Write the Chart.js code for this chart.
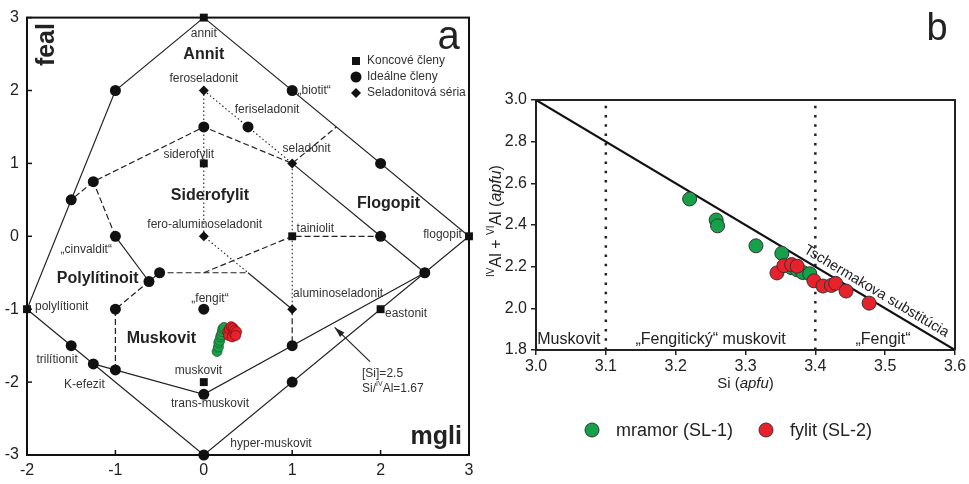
<!DOCTYPE html>
<html>
<head>
<meta charset="utf-8">
<script src="https://cdn.jsdelivr.net/npm/chart.js@4"></script>
<style>
  body { margin: 0; background: #fff; }
  #wrapA { position: absolute; left: 0; top: 0; width: 485px; height: 484px; }
  #wrapB { position: absolute; left: 485px; top: 0; width: 484px; height: 484px; }
</style>
</head>
<body>
<div id="wrapA"><canvas id="chartA"></canvas></div>
<div id="wrapB"><canvas id="chartB"></canvas></div>
<script>
// ---- panel a: mgli vs feal ----
const xTicksA = [-2, -1, 0, 1, 2, 3];
const yTicksA = [-3, -2, -1, 0, 1, 2, 3];
const endMembers = [[0, 3], [0, 1], [1, 0], [3, 0], [-2, -1], [2, -1], [0, -2]];
const idealMembers = [[1, 2], [-1, 2], [2, 1], [0, 1.5], [0.5, 1.5], [-1.25, 0.75], [-1.5, 0.5], [-1, 0], [2, 0],
  [-0.62, -0.62], [-0.5, -0.5], [-1, -1], [0, -1], [-1.5, -1.5], [-1.25, -1.75], [-1, -1.833], [0, -2.167],
  [1, -1.5], [1, -2], [2.5, -0.5], [0, -3]];
const celadonites = [[0, 2], [1, 1], [0, 0], [1, -1]];
const solidLines = [
  [[0, 3], [3, 0], [0, -3], [-2, -1], [-1, 2], [0, 3]],
  [[-1.25, -1.75], [0, -2.167], [2.5, -0.5]],
  [[2, 0], [2.5, -0.5]],
  [[1, 1], [2, 0]],
  [[-1, 0], [-0.62, -0.62]],
  [[0.5, -0.5], [1, -1]]
];
const dashedLines = [
  [[-1, -1.833], [-1, -1], [-0.62, -0.62], [-0.5, -0.5], [0.5, -0.5]],
  [[0, -0.5], [1, 0], [2, 0]],
  [[1, -1], [1, -1.5]],
  [[-1, 0], [-1.25, 0.75], [0, 1.5], [1, 1], [1.5, 1.5]],
  [[-1.25, 0.75], [-1.5, 0.5]]
];
const dottedLines = [
  [[0, 2], [0, 0], [0.5, -0.5]],
  [[0, 2], [0.5, 1.5], [1, 1], [1, -1]]
];
const marbleMgli = [0.15, 0.165, 0.17, 0.18, 0.19, 0.2, 0.21, 0.215, 0.23];
const marbleFeal = [-1.58, -1.52, -1.46, -1.43, -1.38, -1.35, -1.31, -1.27, -1.25];
const phylliteMgli = [0.27, 0.28, 0.29, 0.31, 0.32, 0.33, 0.34, 0.35, 0.37, 0.36];
const phylliteFeal = [-1.31, -1.36, -1.27, -1.24, -1.38, -1.26, -1.33, -1.29, -1.31, -1.36];

// ---- panel b: Si vs IVAl + VIAl ----
const marbleSi = [3.220, 3.258, 3.260, 3.315, 3.352, 3.366, 3.374, 3.382, 3.392];
const marbleAl = [2.525, 2.424, 2.396, 2.300, 2.264, 2.195, 2.185, 2.172, 2.166];
const phylliteSi = [3.345, 3.355, 3.366, 3.374, 3.398, 3.411, 3.423, 3.429, 3.444, 3.477];
const phylliteAl = [2.170, 2.205, 2.210, 2.202, 2.132, 2.107, 2.110, 2.120, 2.083, 2.025];
const tschermakSi = [3.0, 3.6];
const tschermakAl = [3.0, 1.8];
const dividers = [3.1, 3.4];
const fieldNames = ['Muskovit', '„Fengitický“ muskovit', '„Fengit“'];
const fieldCentres = [3.047, 3.25, 3.497];

const FONT = '"Liberation Sans", Arial, sans-serif';
const GREEN = '#17a04a';
const RED = '#e8222a';
Chart.defaults.font.family = FONT;
Chart.defaults.color = '#222';

const pairs = list => list.map(p => ({x: p[0], y: p[1]}));
const zip = (xs, ys) => xs.map((v, i) => ({x: v, y: ys[i]}));

function lineSet(pts, dash, width) {
  return {data: pairs(pts), showLine: true, pointRadius: 0, borderColor: '#222', borderWidth: width || 1.2,
    borderDash: dash || [], order: 3, clip: false};
}

// rich text: parts are {t, sup, it}
function drawRich(ctx, parts, x, y, size, align) {
  const fontOf = p => (p.it ? 'italic ' : '') + (p.sup ? Math.round(size * 0.62) : size) + 'px ' + FONT;
  let w = 0;
  parts.forEach(p => { ctx.font = fontOf(p); w += ctx.measureText(p.t).width; });
  let cx = align === 'center' ? x - w / 2 : x;
  ctx.textAlign = 'left';
  ctx.textBaseline = 'middle';
  parts.forEach(p => {
    ctx.font = fontOf(p);
    ctx.fillText(p.t, cx, p.sup ? y - size * 0.38 : y);
    cx += ctx.measureText(p.t).width;
  });
}

const labelsA = [
  {t: 'annit', x: 0, y: 2.78},
  {t: 'Annit', x: 0, y: 2.49, bold: true},
  {t: 'feroseladonit', x: 0, y: 2.16},
  {t: '„biotit“', x: 1.06, y: 2.0, align: 'left'},
  {t: 'feriseladonit', x: 0.35, y: 1.74, align: 'left'},
  {t: 'seladonit', x: 0.89, y: 1.2, align: 'left'},
  {t: 'siderofylit', x: -0.17, y: 1.12},
  {t: 'Siderofylit', x: 0.07, y: 0.56, bold: true},
  {t: 'Flogopit', x: 2.09, y: 0.45, bold: true},
  {t: 'fero-aluminoseladonit', x: 0.01, y: 0.16},
  {t: 'tainiolit', x: 1.05, y: 0.1, align: 'left'},
  {t: 'flogopit', x: 2.92, y: 0.02, align: 'right'},
  {t: '„cinvaldit“', x: -1.33, y: -0.18},
  {t: 'Polylítinoit', x: -1.2, y: -0.58, bold: true},
  {t: 'polylítionit', x: -1.91, y: -0.96, align: 'left'},
  {t: '„fengit“', x: 0.07, y: -0.85},
  {t: 'aluminoseladonit', x: 1.01, y: -0.79, align: 'left'},
  {t: 'eastonit', x: 2.05, y: -1.06, align: 'left'},
  {t: 'Muskovit', x: -0.48, y: -1.41, bold: true},
  {t: 'trilítionit', x: -1.66, y: -1.69},
  {t: 'K-efezit', x: -1.35, y: -2.04},
  {t: 'muskovit', x: -0.06, y: -1.85},
  {t: 'trans-muskovit', x: 0.07, y: -2.3},
  {t: 'hyper-muskovit', x: 0.76, y: -2.84},
  {t: '[Si]=2.5', x: 1.79, y: -1.89, align: 'left'}
];

const panelA = {
  id: 'panelA',
  afterDraw(chart) {
    const {ctx, chartArea: a, scales: {x, y}} = chart;
    ctx.save();
    ctx.strokeStyle = '#111';
    ctx.lineWidth = 2;
    ctx.strokeRect(a.left, a.top, a.right - a.left, a.bottom - a.top);
    // inward ticks
    ctx.lineWidth = 1.5;
    xTicksA.forEach(v => {
      const px = x.getPixelForValue(v);
      ctx.beginPath(); ctx.moveTo(px, a.bottom); ctx.lineTo(px, a.bottom - 5); ctx.stroke();
    });
    yTicksA.forEach(v => {
      const py = y.getPixelForValue(v);
      ctx.beginPath(); ctx.moveTo(a.left, py); ctx.lineTo(a.left + 5, py); ctx.stroke();
    });

    ctx.fillStyle = '#333';
    ctx.textBaseline = 'middle';
    labelsA.forEach(l => {
      ctx.font = (l.bold ? 'bold 16px ' : '12px ') + FONT;
      ctx.fillStyle = l.bold ? '#222' : '#333';
      ctx.textAlign = l.align || 'center';
      ctx.fillText(l.t, x.getPixelForValue(l.x), y.getPixelForValue(l.y));
    });
    ctx.fillStyle = '#333';
    drawRich(ctx, [{t: 'Si/'}, {t: 'IV', sup: true}, {t: 'Al=1.67'}],
      x.getPixelForValue(1.79), y.getPixelForValue(-2.09), 12, 'left');

    // arrow to the [Si]=2.5 line
    const x0 = x.getPixelForValue(1.88), y0 = y.getPixelForValue(-1.72);
    const x1 = x.getPixelForValue(1.48), y1 = y.getPixelForValue(-1.25);
    const ang = Math.atan2(y1 - y0, x1 - x0);
    ctx.strokeStyle = '#222';
    ctx.lineWidth = 1.2;
    ctx.beginPath(); ctx.moveTo(x0, y0); ctx.lineTo(x1, y1); ctx.stroke();
    ctx.fillStyle = '#222';
    ctx.beginPath();
    ctx.moveTo(x1, y1);
    ctx.lineTo(x1 - 11 * Math.cos(ang - 0.28), y1 - 11 * Math.sin(ang - 0.28));
    ctx.lineTo(x1 - 11 * Math.cos(ang + 0.28), y1 - 11 * Math.sin(ang + 0.28));
    ctx.closePath(); ctx.fill();

    // axis names and panel letter
    ctx.fillStyle = '#222';
    ctx.font = 'bold 25px ' + FONT;
    ctx.textAlign = 'right';
    ctx.fillText('mgli', x.getPixelForValue(2.92), y.getPixelForValue(-2.76));
    ctx.save();
    ctx.translate(x.getPixelForValue(-1.77), y.getPixelForValue(2.63));
    ctx.rotate(-Math.PI / 2);
    ctx.textAlign = 'center';
    ctx.fillText('feal', 0, 0);
    ctx.restore();
    ctx.font = '40px ' + FONT;
    ctx.textAlign = 'center';
    ctx.fillText('a', x.getPixelForValue(2.77), y.getPixelForValue(2.72));

    // legend of marker types
    const lx = 356, names = ['Koncové členy', 'Ideálne členy', 'Seladonitová séria'];
    const ly = [61, 77, 93];
    ctx.fillStyle = '#111';
    ctx.fillRect(lx - 4, ly[0] - 4, 8, 8);
    ctx.beginPath(); ctx.arc(lx, ly[1], 5.5, 0, Math.PI * 2); ctx.fill();
    ctx.beginPath();
    ctx.moveTo(lx, ly[2] - 5); ctx.lineTo(lx + 5, ly[2]); ctx.lineTo(lx, ly[2] + 5); ctx.lineTo(lx - 5, ly[2]);
    ctx.closePath(); ctx.fill();
    ctx.fillStyle = '#333';
    ctx.font = '12px ' + FONT;
    ctx.textAlign = 'left';
    names.forEach((n, i) => ctx.fillText(n, lx + 11, ly[i]));
    ctx.restore();
  }
};

new Chart(document.getElementById('chartA'), {
  type: 'scatter',
  data: {
    datasets: [
      ...solidLines.map(l => lineSet(l)),
      ...dashedLines.map(l => lineSet(l, [6, 3])),
      ...dottedLines.map(l => lineSet(l, [1.5, 2.5], 1.1)),
      {data: pairs(endMembers), pointStyle: 'rect', pointRadius: 5.6, backgroundColor: '#111', borderWidth: 0, order: 2, clip: false},
      {data: pairs(idealMembers), pointStyle: 'circle', pointRadius: 5.5, backgroundColor: '#111', borderWidth: 0, order: 2, clip: false},
      {data: pairs(celadonites), pointStyle: 'rectRot', pointRadius: 5, backgroundColor: '#111', borderWidth: 0, order: 2, clip: false},
      {data: zip(marbleMgli, marbleFeal), pointRadius: 5, backgroundColor: GREEN, borderColor: '#2a5a30', borderWidth: 0.8, order: 1},
      {data: zip(phylliteMgli, phylliteFeal), pointRadius: 5, backgroundColor: RED, borderColor: '#7a1010', borderWidth: 0.8, order: 0}
    ]
  },
  options: {
    responsive: true,
    maintainAspectRatio: false,
    animation: false,
    layout: {padding: {top: 12, right: 16, left: 0, bottom: 0}},
    plugins: {legend: {display: false}, tooltip: {enabled: false}},
    scales: {
      x: {
        min: -2, max: 3,
        afterFit: s => { s.height = 29; },
        ticks: {stepSize: 1, font: {size: 16}, padding: 6, color: '#222'},
        grid: {display: false, drawTicks: false},
        border: {display: false}
      },
      y: {
        min: -3, max: 3,
        afterFit: s => { s.width = 27; },
        ticks: {stepSize: 1, font: {size: 16}, padding: 8, color: '#222'},
        grid: {display: false, drawTicks: false},
        border: {display: false}
      }
    }
  },
  plugins: [panelA]
});

const panelB = {
  id: 'panelB',
  afterDraw(chart) {
    const {ctx, chartArea: a, scales: {x, y}} = chart;
    ctx.save();
    ctx.strokeStyle = '#222';
    ctx.lineWidth = 2;
    ctx.beginPath();
    ctx.moveTo(a.left, a.top); ctx.lineTo(a.right, a.top); ctx.lineTo(a.right, a.bottom);
    ctx.stroke();

    ctx.fillStyle = '#222';
    // axis titles
    drawRich(ctx, [{t: 'Si ('}, {t: 'apfu', it: true}, {t: ')'}], x.getPixelForValue(3.3), 384, 15, 'center');
    ctx.save();
    ctx.translate(12, 221);
    ctx.rotate(-Math.PI / 2);
    drawRich(ctx, [{t: 'IV', sup: true}, {t: 'Al + '}, {t: 'VI', sup: true}, {t: 'Al ('}, {t: 'apfu', it: true}, {t: ')'}], 0, 0, 16, 'center');
    ctx.restore();

    // field names
    ctx.font = '16px ' + FONT;
    ctx.textAlign = 'center';
    ctx.textBaseline = 'middle';
    fieldNames.forEach((n, i) => ctx.fillText(n, x.getPixelForValue(fieldCentres[i]), a.bottom - 10));

    // substitution line label
    const px0 = x.getPixelForValue(tschermakSi[0]), py0 = y.getPixelForValue(tschermakAl[0]);
    const px1 = x.getPixelForValue(tschermakSi[1]), py1 = y.getPixelForValue(tschermakAl[1]);
    const ang = Math.atan2(py1 - py0, px1 - px0);
    const t = 0.8;
    ctx.save();
    ctx.font = '14.5px ' + FONT;
    ctx.translate(px0 + (px1 - px0) * t + 10 * Math.sin(ang), py0 + (py1 - py0) * t - 10 * Math.cos(ang));
    ctx.rotate(ang);
    ctx.fillText('Tschermakova substitúcia', 0, 0);
    ctx.restore();

    // panel letter
    ctx.font = '38px ' + FONT;
    ctx.fillText('b', 452, 30);

    // legend
    ctx.font = '18px ' + FONT;
    ctx.textAlign = 'left';
    const lgX = [107, 281];
    chart.data.datasets.slice(0, 2).forEach((d, i) => {
      ctx.fillStyle = d.backgroundColor;
      ctx.strokeStyle = '#333';
      ctx.lineWidth = 1;
      ctx.beginPath(); ctx.arc(lgX[i], 430, 7, 0, Math.PI * 2); ctx.fill(); ctx.stroke();
      ctx.fillStyle = '#222';
      ctx.fillText(d.label, lgX[i] + 24, 431);
    });
    ctx.restore();
  }
};

new Chart(document.getElementById('chartB'), {
  type: 'scatter',
  data: {
    datasets: [
      {label: 'mramor (SL-1)', data: zip(marbleSi, marbleAl), backgroundColor: GREEN, borderColor: '#333', borderWidth: 1, pointRadius: 7, order: 1, clip: false},
      {label: 'fylit (SL-2)', data: zip(phylliteSi, phylliteAl), backgroundColor: RED, borderColor: '#333', borderWidth: 1, pointRadius: 7, order: 0, clip: false},
      {data: zip(tschermakSi, tschermakAl), showLine: true, pointRadius: 0, borderColor: '#111', borderWidth: 2.2, order: 3},
      ...dividers.map(v => ({data: [{x: v, y: 1.8}, {x: v, y: 3.0}], showLine: true, pointRadius: 0,
        borderColor: '#222', borderWidth: 2.5, borderDash: [2.5, 6.8], order: 3}))
    ]
  },
  options: {
    responsive: true,
    maintainAspectRatio: false,
    animation: false,
    layout: {padding: {top: 100, right: 14, left: 0, bottom: 0}},
    plugins: {legend: {display: false}, tooltip: {enabled: false}},
    scales: {
      x: {
        min: 3.0, max: 3.6,
        afterFit: s => { s.height = 134; },
        ticks: {stepSize: 0.1, font: {size: 16}, padding: 2, color: '#222', callback: v => v.toFixed(1)},
        grid: {drawOnChartArea: false, tickLength: 5, color: '#222', lineWidth: 1.5},
        border: {color: '#222', width: 2}
      },
      y: {
        min: 1.8, max: 3.0,
        afterFit: s => { s.width = 51; },
        ticks: {stepSize: 0.2, font: {size: 16}, padding: 4, color: '#222', callback: v => v.toFixed(1)},
        grid: {drawOnChartArea: false, tickLength: 5, color: '#222', lineWidth: 1.5},
        border: {color: '#222', width: 2}
      }
    }
  },
  plugins: [panelB]
});
</script>
</body>
</html>
